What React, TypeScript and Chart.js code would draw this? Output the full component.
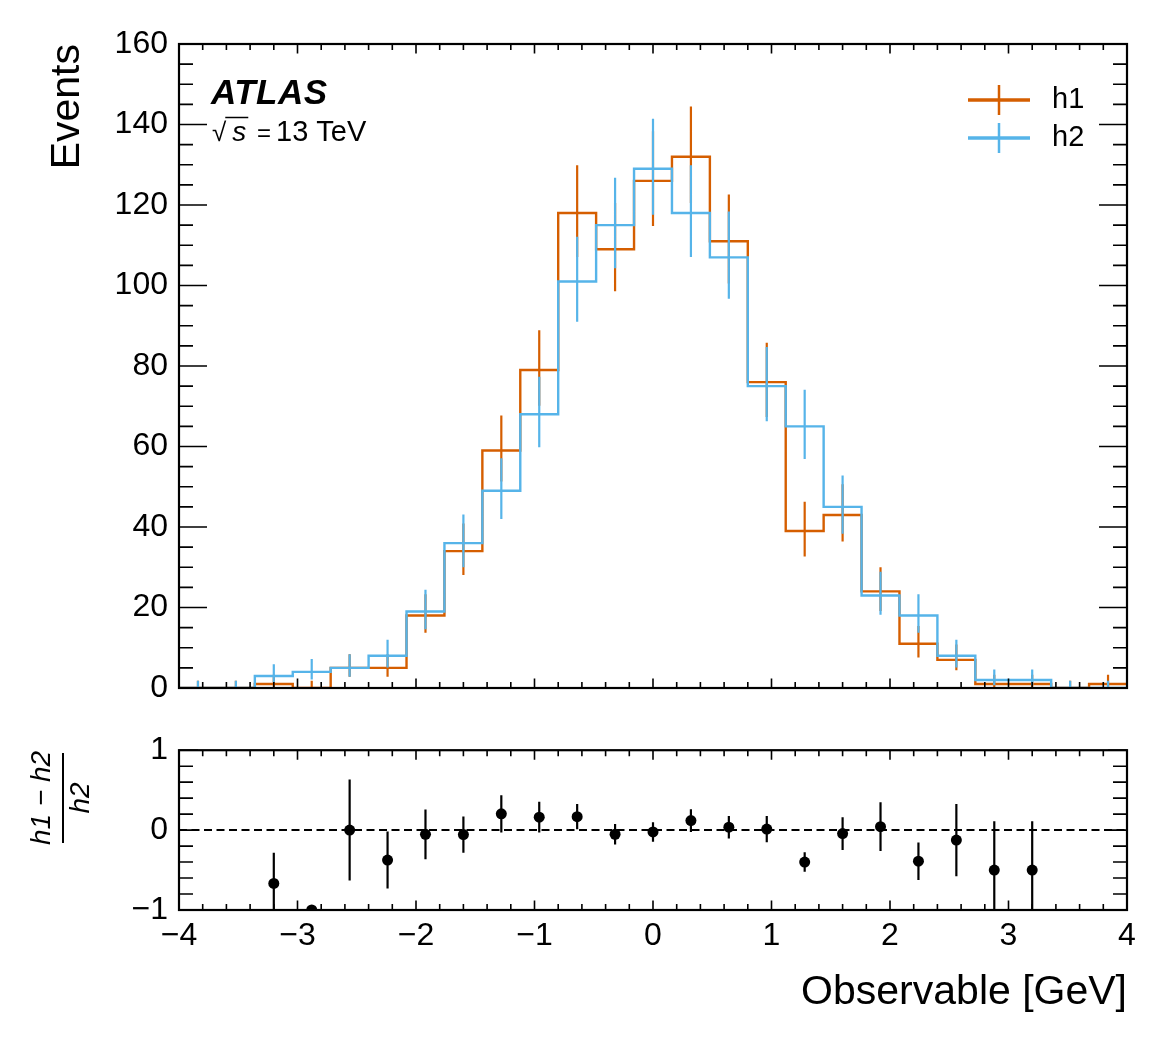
import { useEffect, useRef } from "react";
import { Chart, registerables } from "chart.js";

Chart.register(...registerables);

const FONT = "'Liberation Sans', Arial, Helvetica, sans-serif";
Chart.defaults.font.family = FONT;
Chart.defaults.color = "#000";

// histogram binning (GeV)
const binEdges = [
  -4, -3.68, -3.36, -3.04, -2.72, -2.4, -2.08, -1.76, -1.44, -1.12, -0.8, -0.48, -0.16,
  0.16, 0.48, 0.8, 1.12, 1.44, 1.76, 2.08, 2.4, 2.72, 3.04, 3.36, 3.68, 4,
];
const binCenters = [
  -3.84, -3.52, -3.2, -2.88, -2.56, -2.24, -1.92, -1.6, -1.28, -0.96, -0.64, -0.32, 0,
  0.32, 0.64, 0.96, 1.28, 1.6, 1.92, 2.24, 2.56, 2.88, 3.2, 3.52, 3.84,
];

// h1 counts and its (asymmetric) error bars
const h1 = [0, 0, 1, 0, 5, 5, 18, 34, 59, 79, 118, 109, 126, 132, 111, 76, 39, 43, 24, 11, 7, 1, 1, 0, 1];
const h1ErrUp = [1.8, 1.8, 2.3, 1.8, 3.4, 3.4, 5.3, 6.9, 8.7, 9.9, 11.9, 11.5, 12.3, 12.5, 11.6, 9.8, 7.3, 7.6, 6.0, 4.4, 3.8, 2.3, 2.3, 1.8, 2.3];
const h1ErrDown = [0, 0, 0.8, 0, 2.2, 2.2, 4.3, 5.9, 7.7, 8.9, 10.9, 10.4, 11.2, 11.5, 10.5, 8.7, 6.3, 6.6, 4.9, 3.4, 2.6, 0.8, 0.8, 0, 0.8];

// h2 counts and its error bars
const h2 = [0, 0, 3, 4, 5, 8, 19, 36, 49, 68, 101, 115, 129, 118, 107, 75, 65, 45, 23, 18, 8, 2, 2, 0, 0];
const h2ErrUp = [1.8, 1.8, 2.9, 3.2, 3.4, 4.0, 5.4, 7.1, 8.1, 9.3, 11.1, 11.8, 12.4, 11.9, 11.4, 9.7, 9.1, 7.8, 5.9, 5.3, 4.0, 2.6, 2.6, 1.8, 1.8];
const h2ErrDown = [0, 0, 1.6, 1.9, 2.2, 2.9, 4.4, 6.0, 7.0, 8.2, 10.0, 10.7, 11.4, 10.9, 10.3, 8.7, 8.1, 6.7, 4.8, 4.3, 2.9, 1.3, 1.3, 0, 0];

// ratio panel (h1 - h2) / h2
const ratioX = [-3.2, -2.88, -2.56, -2.24, -1.92, -1.6, -1.28, -0.96, -0.64, -0.32, 0, 0.32, 0.64, 0.96, 1.28, 1.6, 1.92, 2.24, 2.56, 2.88, 3.2];
const ratioY = [-0.667, -1, 0, -0.375, -0.053, -0.056, 0.204, 0.162, 0.168, -0.052, -0.023, 0.119, 0.037, 0.013, -0.4, -0.044, 0.043, -0.389, -0.125, -0.5, -0.5];
const ratioErr = [0.385, 0, 0.632, 0.356, 0.312, 0.226, 0.233, 0.192, 0.158, 0.127, 0.122, 0.142, 0.141, 0.165, 0.122, 0.204, 0.304, 0.234, 0.453, 0.612, 0.612];

const seriesLabels = ["h1", "h2"];
const seriesColors = ["#D55E00", "#56B4E9"];

const minus = (v: number | string) => String(v).replace("-", "\u2212");

const stepPoints = (vals: number[]) =>
  binEdges.map((e, i) => ({ x: e, y: vals[Math.min(i, vals.length - 1)] }));

const errPoints = (xs: number[], vals: number[], up: number[], down: number[]) =>
  xs.flatMap((c, i) => [
    { x: c, y: vals[i] - down[i] },
    { x: c, y: vals[i] + up[i] },
    { x: c, y: null },
  ]);

// inward ticks on all four sides + frame
function drawFrame(
  chart: Chart,
  yFrom: number,
  yStep: number,
  yCount: number,
  yMajorEvery: number,
  yMajorLen: number,
  yMinorLen: number
) {
  const { ctx, chartArea: a } = chart;
  const xs = chart.scales.x;
  const ys = chart.scales.y;
  ctx.save();
  ctx.strokeStyle = "#000";
  ctx.lineWidth = 1.6;
  ctx.beginPath();
  for (let i = 0; i <= 40; i++) {
    const px = xs.getPixelForValue(-4 + i * 0.2);
    const len = i % 5 === 0 ? 9.5 : 6;
    ctx.moveTo(px, a.bottom);
    ctx.lineTo(px, a.bottom - len);
    ctx.moveTo(px, a.top);
    ctx.lineTo(px, a.top + len);
  }
  for (let i = 0; i <= yCount; i++) {
    const py = ys.getPixelForValue(yFrom + i * yStep);
    const len = i % yMajorEvery === 0 ? yMajorLen : yMinorLen;
    ctx.moveTo(a.left, py);
    ctx.lineTo(a.left + len, py);
    ctx.moveTo(a.right, py);
    ctx.lineTo(a.right - len, py);
  }
  ctx.stroke();
  ctx.lineWidth = 2.2;
  ctx.strokeRect(a.left, a.top, a.right - a.left, a.bottom - a.top);
  ctx.restore();
}

const mainDecor = {
  id: "mainDecor",
  afterDraw(chart: Chart) {
    drawFrame(chart, 0, 5, 32, 4, 28, 14);
    const { ctx } = chart as any;
    ctx.save();
    ctx.fillStyle = "#000";
    ctx.textBaseline = "alphabetic";
    ctx.textAlign = "left";
    ctx.font = `italic bold 35px ${FONT}`;
    ctx.letterSpacing = "0.5px";
    ctx.fillText("ATLAS", 211, 104);
    ctx.letterSpacing = "0px";

    // sqrt(s) = 13 TeV
    ctx.font = `26px ${FONT}`;
    ctx.fillText("\u221A", 212, 141);
    const rw = ctx.measureText("\u221A").width;
    ctx.font = `italic 28px ${FONT}`;
    ctx.fillText("s", 212 + rw + 6, 141);
    const sw = ctx.measureText("s").width;
    ctx.strokeStyle = "#000";
    ctx.lineWidth = 1.5;
    ctx.beginPath();
    ctx.moveTo(212 + rw - 1, 117.5);
    ctx.lineTo(212 + rw + 8 + sw, 117.5);
    ctx.stroke();
    ctx.font = `24px ${FONT}`;
    ctx.fillText("=", 257, 141);
    ctx.font = `29px ${FONT}`;
    ctx.fillText("13 TeV", 276, 141);

    // legend
    seriesLabels.forEach((label, i) => {
      const cy = 100 + i * 38;
      ctx.strokeStyle = seriesColors[i];
      ctx.lineWidth = 3.5;
      ctx.beginPath();
      ctx.moveTo(968, cy);
      ctx.lineTo(1030, cy);
      ctx.stroke();
      ctx.lineWidth = 2.5;
      ctx.beginPath();
      ctx.moveTo(999, cy - 15);
      ctx.lineTo(999, cy + 15);
      ctx.stroke();
      ctx.fillStyle = "#000";
      ctx.font = `29px ${FONT}`;
      ctx.textBaseline = "middle";
      ctx.fillText(label, 1052, cy);
    });
    ctx.restore();
  },
};

const ratioDecor = {
  id: "ratioDecor",
  afterDraw(chart: Chart) {
    drawFrame(chart, -1, 0.2, 10, 5, 19, 14);
    const { ctx } = chart;
    // fraction label, rotated
    const cy = 798 - 720;
    ctx.save();
    ctx.translate(63, cy);
    ctx.rotate(-Math.PI / 2);
    ctx.fillStyle = "#000";
    ctx.font = `italic 28px ${FONT}`;
    ctx.textAlign = "center";
    ctx.textBaseline = "middle";
    ctx.fillText("h1 \u2212 h2", 0, -21);
    ctx.fillText("h2", 0, 18);
    ctx.strokeStyle = "#000";
    ctx.lineWidth = 2;
    ctx.beginPath();
    ctx.moveTo(-45, 0);
    ctx.lineTo(45, 0);
    ctx.stroke();
    ctx.restore();
  },
};

export default function App() {
  const mainRef = useRef<HTMLCanvasElement>(null);
  const ratioRef = useRef<HTMLCanvasElement>(null);

  useEffect(() => {
    if (!mainRef.current || !ratioRef.current) return;

    const lineBase = {
      pointRadius: 0,
      fill: false,
      tension: 0,
      spanGaps: false,
    };

    const mainChart = new Chart(mainRef.current, {
      type: "line",
      data: {
        datasets: [
          {
            ...lineBase,
            label: seriesLabels[0],
            data: stepPoints(h1),
            stepped: "before",
            borderColor: seriesColors[0],
            borderWidth: 2.4,
            order: 3,
          },
          {
            ...lineBase,
            label: seriesLabels[0] + " err",
            data: errPoints(binCenters, h1, h1ErrUp, h1ErrDown),
            borderColor: seriesColors[0],
            borderWidth: 2.2,
            order: 2,
          },
          {
            ...lineBase,
            label: seriesLabels[1],
            data: stepPoints(h2),
            stepped: "before",
            borderColor: seriesColors[1],
            borderWidth: 2.4,
            order: 1,
          },
          {
            ...lineBase,
            label: seriesLabels[1] + " err",
            data: errPoints(binCenters, h2, h2ErrUp, h2ErrDown),
            borderColor: seriesColors[1],
            borderWidth: 2.2,
            order: 0,
          },
        ],
      },
      options: {
        responsive: false,
        animation: false,
        events: [],
        layout: { padding: { top: 44, right: 40, bottom: 32, left: 0 } },
        plugins: { legend: { display: false }, tooltip: { enabled: false } },
        scales: {
          x: { type: "linear", min: -4, max: 4, display: false },
          y: {
            type: "linear",
            min: 0,
            max: 160,
            afterFit: (s: any) => {
              s.width = 179;
            },
            grid: { display: false, drawTicks: false },
            border: { display: false },
            ticks: { stepSize: 20, padding: 11, font: { size: 32 }, color: "#000" },
            title: {
              display: true,
              text: "Events",
              align: "end",
              color: "#000",
              font: { size: 41 },
              padding: { top: 43, bottom: 0 },
            },
          },
        },
      },
      plugins: [mainDecor],
    } as any);

    const ratioChart = new Chart(ratioRef.current, {
      type: "line",
      data: {
        datasets: [
          {
            ...lineBase,
            label: "zero",
            data: [
              { x: -4, y: 0 },
              { x: 4, y: 0 },
            ],
            borderColor: "#000",
            borderWidth: 2,
            borderDash: [8, 4.5],
            order: 2,
          },
          {
            ...lineBase,
            label: "ratio err",
            data: errPoints(ratioX, ratioY, ratioErr, ratioErr),
            borderColor: "#000",
            borderWidth: 2.2,
            order: 1,
          },
          {
            label: "ratio",
            data: ratioX.map((x, i) => ({ x, y: ratioY[i] })),
            showLine: false,
            pointRadius: 5.5,
            pointBackgroundColor: "#000",
            pointBorderWidth: 0,
            borderColor: "#000",
            order: 0,
          },
        ],
      },
      options: {
        responsive: false,
        animation: false,
        events: [],
        layout: { padding: { top: 29, right: 40, bottom: 0, left: 0 } },
        plugins: { legend: { display: false }, tooltip: { enabled: false } },
        scales: {
          x: {
            type: "linear",
            min: -4,
            max: 4,
            afterFit: (s: any) => {
              s.height = 135;
            },
            grid: { display: false, drawTicks: false },
            border: { display: false },
            ticks: {
              stepSize: 1,
              padding: 7,
              autoSkip: false,
              maxRotation: 0,
              font: { size: 32 },
              color: "#000",
              callback: (v: any) => minus(v),
            },
            title: {
              display: true,
              text: "Observable [GeV]",
              align: "end",
              color: "#000",
              font: { size: 41 },
              padding: { top: 0, bottom: 28 },
            },
          },
          y: {
            type: "linear",
            min: -1,
            max: 1,
            afterFit: (s: any) => {
              s.width = 179;
            },
            grid: { display: false, drawTicks: false },
            border: { display: false },
            ticks: {
              stepSize: 1,
              padding: 11,
              font: { size: 32 },
              color: "#000",
              callback: (v: any) => minus(v),
            },
          },
        },
      },
      plugins: [ratioDecor],
    } as any);

    return () => {
      mainChart.destroy();
      ratioChart.destroy();
    };
  }, []);

  return (
    <div
      style={{
        position: "fixed",
        left: 0,
        top: 0,
        width: 1167,
        height: 1045,
        background: "#fff",
      }}
    >
      <canvas
        ref={mainRef}
        width={1167}
        height={720}
        style={{ position: "absolute", left: 0, top: 0, display: "block" }}
      />
      <canvas
        ref={ratioRef}
        width={1167}
        height={325}
        style={{ position: "absolute", left: 0, top: 720, display: "block" }}
      />
    </div>
  );
}
